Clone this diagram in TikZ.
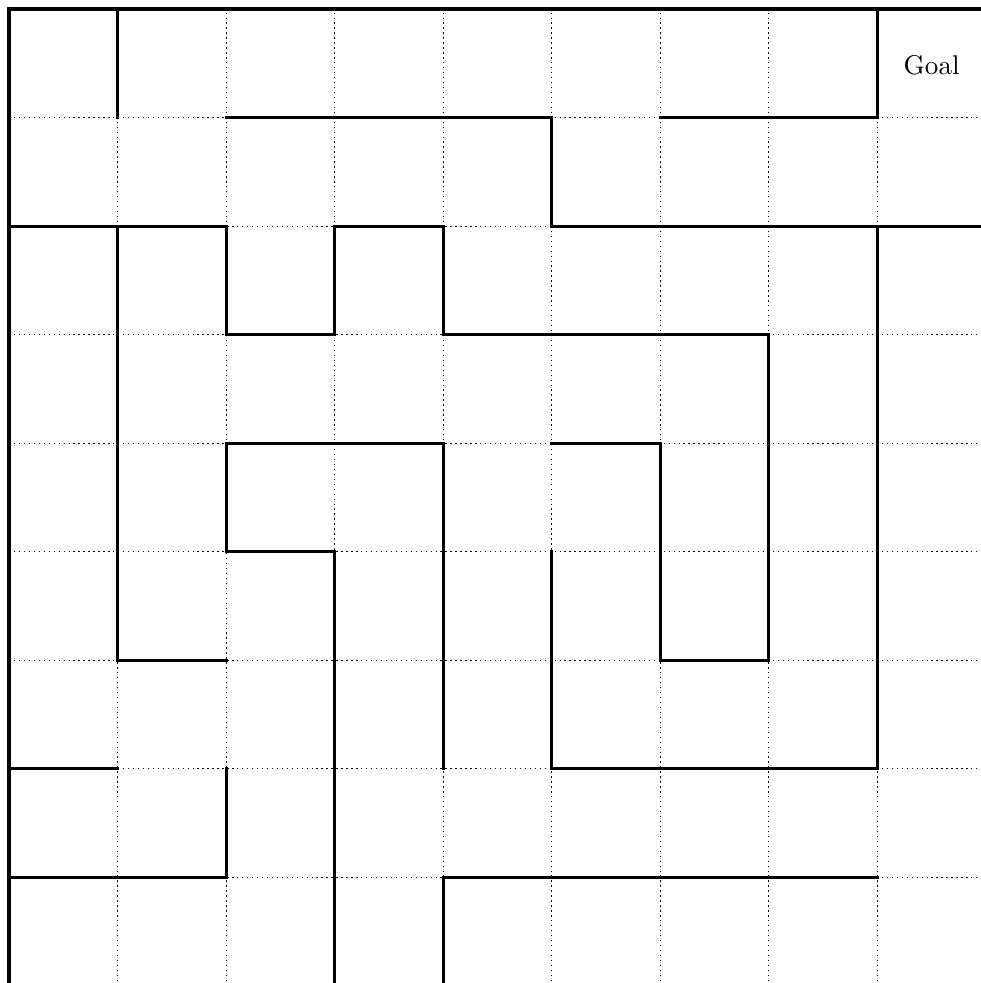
\documentclass[tikz,border=0pt]{standalone}
\begin{document}
\begin{tikzpicture}[x=1cm,y=1cm,
  gridline/.style={line width=0.3pt, dash pattern=on 0.35pt off 0.95pt},
  wall/.style={line width=0.8pt, line cap=rect, line join=miter},
  goallabel/.style={font=\fontsize{10}{12}\selectfont, scale=0.71, inner sep=0pt}]
\useasboundingbox (-0.083,0.027) rectangle (8.954,9.083);
\clip (-0.083,0.027) rectangle (8.954,9.083);
% dotted grid
\foreach \i in {0,...,9} {
  \draw[gridline] (\i,0) -- (\i,9);
  \draw[gridline] (0,\i) -- (9.2,\i);
}
% outer walls
\draw[wall] (0,-0.2) -- (0,9) -- (9.2,9);
% walls
\draw[wall] (1,9) -- (1,8);
\draw[wall] (2,8) -- (5,8) -- (5,7) -- (9.2,7);
\draw[wall] (6,8) -- (8,8) -- (8,9);
\draw[wall] (0,7) -- (2,7) -- (2,6) -- (3,6) -- (3,7) -- (4,7) -- (4,6) -- (7,6) -- (7,3) -- (6,3) -- (6,5) -- (5,5);
\draw[wall] (1,7) -- (1,3) -- (2,3);
\draw[wall] (4,2) -- (4,5) -- (2,5) -- (2,4) -- (3,4) -- (3,-0.2);
\draw[wall] (5,4) -- (5,2) -- (8,2) -- (8,7);
\draw[wall] (0,2) -- (1,2);
\draw[wall] (2,2) -- (2,1) -- (0,1);
\draw[wall] (8,1) -- (4,1) -- (4,-0.2);
\node[goallabel] (goal) at (8.5,8.48) {Goal};
\end{tikzpicture}
\end{document}
